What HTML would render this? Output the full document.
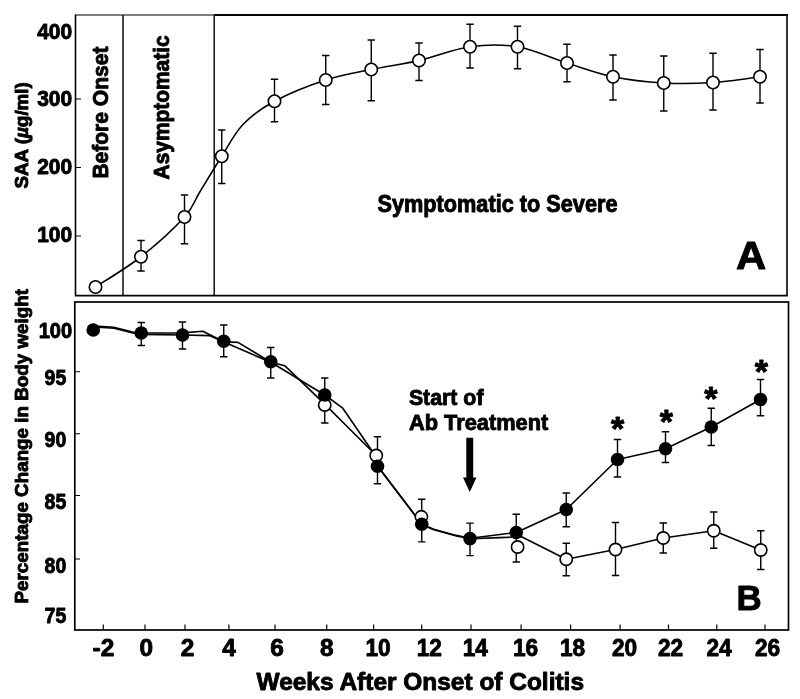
<!DOCTYPE html>
<html lang="en"><head><meta charset="utf-8"><title>SAA and body weight after onset of colitis</title>
<style>
html,body{margin:0;padding:0;background:#fff;}
body{width:800px;height:699px;overflow:hidden;}
svg{display:block;filter:grayscale(1);will-change:transform;}
text{font-family:"Liberation Sans",sans-serif;font-weight:bold;fill:#000;stroke:#000;stroke-width:0.9;stroke-linejoin:round;}
.ln{fill:none;stroke:#000;stroke-width:1.6;stroke-linejoin:round;}
.eb{fill:none;stroke:#000;stroke-width:1.4;}
.fr{fill:none;stroke:#000;}
.om{fill:#fff;stroke:#000;stroke-width:1.6;}
.fm{fill:#000;stroke:none;}
</style></head><body>
<svg width="800" height="699" viewBox="0 0 800 699">
<rect width="800" height="699" fill="#fff"/>
<g id="panelA">
<path class="fr" stroke-width="1.6" d="M75.5,14.5V295"/>
<path class="fr" stroke-width="1.2" d="M75.5,15H214"/>
<path class="fr" stroke-width="1.8" d="M214,15H787.8"/>
<path class="fr" stroke-width="1.6" d="M787,14.5V296"/>
<path class="fr" stroke-width="1.6" d="M74.8,295.6H787.8"/>
<path class="fr" stroke-width="1.4" d="M123,15V295M214.2,15V295"/>
<path class="fr" stroke-width="1.2" d="M76,99H81M76,167.5H81M76,236H81"/>
<text x="72.2" y="39.2" font-size="22" text-anchor="end" textLength="35" lengthAdjust="spacingAndGlyphs">400</text>
<text x="72.2" y="106.3" font-size="22" text-anchor="end" textLength="35" lengthAdjust="spacingAndGlyphs">300</text>
<text x="72.2" y="173.6" font-size="22" text-anchor="end" textLength="35" lengthAdjust="spacingAndGlyphs">200</text>
<text x="72.2" y="241.7" font-size="22" text-anchor="end" textLength="35" lengthAdjust="spacingAndGlyphs">100</text>
<text transform="translate(28.4,188.6) rotate(-90)" font-size="18.6" textLength="106.5" lengthAdjust="spacingAndGlyphs">SAA (<tspan font-style="italic">µ</tspan>g/ml)</text>
<text transform="translate(108.4,178.6) rotate(-90)" font-size="22" textLength="132" lengthAdjust="spacingAndGlyphs">Before Onset</text>
<text transform="translate(169.2,179.4) rotate(-90)" font-size="22" textLength="144" lengthAdjust="spacingAndGlyphs">Asymptomatic</text>
<text x="377.5" y="211.8" font-size="23" textLength="240" lengthAdjust="spacingAndGlyphs">Symptomatic to Severe</text>
<text x="735.9" y="268.5" font-size="39.4" textLength="30.2" lengthAdjust="spacingAndGlyphs">A</text>
<path class="ln" d="M95.5,287 C103.08,281.96 126.17,268.42 141,256.75 C155.83,245.08 174.75,227.71 184.5,217 C194.25,206.29 193.29,202.62 199.5,192.5 C205.71,182.38 214.5,167.58 221.75,156.25 C229,144.92 234.21,133.67 243,124.5 C251.79,115.33 260.71,108.67 274.5,101.25 C288.29,93.83 309.62,85.29 325.75,80 C341.88,74.71 355.71,72.75 371.25,69.5 C386.79,66.25 402.54,64.29 419,60.5 C435.46,56.71 453.58,49.04 470,46.75 C486.42,44.46 501.33,44.04 517.5,46.75 C533.67,49.46 551.08,58 567,63 C582.92,68 596.88,73.42 613,76.75 C629.12,80.08 647.08,82.04 663.75,83 C680.42,83.96 696.96,83.54 713,82.5 C729.04,81.46 752.17,77.71 760,76.75"/>
<path class="eb" d="M141,240.5V271M137.3,240.5H144.7M137.3,271H144.7M184.5,195V243.75M180.8,195H188.2M180.8,243.75H188.2M221.75,130V183.5M218.05,130H225.45M218.05,183.5H225.45M274.5,79.25V121.75M270.8,79.25H278.2M270.8,121.75H278.2M325.75,55.5V104.5M322.05,55.5H329.45M322.05,104.5H329.45M371.25,40V100.75M367.55,40H374.95M367.55,100.75H374.95M419,43V80.5M415.3,43H422.7M415.3,80.5H422.7M470,24.25V68M466.3,24.25H473.7M466.3,68H473.7M517.5,26.25V68.75M513.8,26.25H521.2M513.8,68.75H521.2M567,44.25V81.75M563.3,44.25H570.7M563.3,81.75H570.7M613,55V100M609.3,55H616.7M609.3,100H616.7M663.75,56V111M660.05,56H667.45M660.05,111H667.45M713,53.25V110M709.3,53.25H716.7M709.3,110H716.7M760,49.5V103M756.3,49.5H763.7M756.3,103H763.7"/>
<circle class="om" cx="95.5" cy="287" r="6.2"/>
<circle class="om" cx="141" cy="256.75" r="6.2"/>
<circle class="om" cx="184.5" cy="217" r="6.2"/>
<circle class="om" cx="221.75" cy="156.25" r="6.2"/>
<circle class="om" cx="274.5" cy="101.25" r="6.2"/>
<circle class="om" cx="325.75" cy="80" r="6.2"/>
<circle class="om" cx="371.25" cy="69.5" r="6.2"/>
<circle class="om" cx="419" cy="60.5" r="6.2"/>
<circle class="om" cx="470" cy="46.75" r="6.2"/>
<circle class="om" cx="517.5" cy="46.75" r="6.2"/>
<circle class="om" cx="567" cy="63" r="6.2"/>
<circle class="om" cx="613" cy="76.75" r="6.2"/>
<circle class="om" cx="663.75" cy="83" r="6.2"/>
<circle class="om" cx="713" cy="82.5" r="6.2"/>
<circle class="om" cx="760" cy="76.75" r="6.2"/>
</g>
<g id="panelB">
<rect class="fr" stroke-width="1.7" x="74.8" y="302" width="713.7" height="328"/>
<path class="fr" stroke-width="1.2" d="M75,371.75H80M75,433.75H80M75,495.5H80M75,559H80"/>
<path class="fr" stroke-width="1.2" d="M103.3,630V624.4M145,630V624.4M185,630V624.4M228.9,630V624.4M275,630V624.4M326.75,630V624.4M373.6,630V624.4M421.7,630V624.4M471,630V624.4M521.1,630V624.4M570.6,630V624.4M620.1,630V624.4M668.5,630V624.4M716.75,630V624.4M765,630V624.4"/>
<text x="72.2" y="338.2" font-size="21.5" text-anchor="end" textLength="33.5" lengthAdjust="spacingAndGlyphs">100</text>
<text x="66.2" y="385.2" font-size="21.5" text-anchor="end" textLength="21.6" lengthAdjust="spacingAndGlyphs">95</text>
<text x="66.2" y="447.2" font-size="21.5" text-anchor="end" textLength="21.6" lengthAdjust="spacingAndGlyphs">90</text>
<text x="66.2" y="508.8" font-size="21.5" text-anchor="end" textLength="21.6" lengthAdjust="spacingAndGlyphs">85</text>
<text x="66.2" y="572.6" font-size="21.5" text-anchor="end" textLength="21.6" lengthAdjust="spacingAndGlyphs">80</text>
<text x="66.2" y="623.4" font-size="21.5" text-anchor="end" textLength="21.6" lengthAdjust="spacingAndGlyphs">75</text>
<text x="103.4" y="656.3" font-size="24.4" text-anchor="middle">-2</text>
<text x="146.2" y="656.3" font-size="24.4" text-anchor="middle">0</text>
<text x="187.5" y="656.3" font-size="24.4" text-anchor="middle">2</text>
<text x="229" y="656.3" font-size="24.4" text-anchor="middle">4</text>
<text x="277" y="656.3" font-size="24.4" text-anchor="middle">6</text>
<text x="326.7" y="656.3" font-size="24.4" text-anchor="middle">8</text>
<text x="378" y="656.3" font-size="24.4" text-anchor="middle" textLength="25.2" lengthAdjust="spacingAndGlyphs">10</text>
<text x="429.3" y="656.3" font-size="24.4" text-anchor="middle" textLength="25.2" lengthAdjust="spacingAndGlyphs">12</text>
<text x="475.3" y="656.3" font-size="24.4" text-anchor="middle" textLength="25.2" lengthAdjust="spacingAndGlyphs">14</text>
<text x="525.6" y="656.3" font-size="24.4" text-anchor="middle" textLength="25.2" lengthAdjust="spacingAndGlyphs">16</text>
<text x="572.5" y="656.3" font-size="24.4" text-anchor="middle" textLength="25.2" lengthAdjust="spacingAndGlyphs">18</text>
<text x="624.5" y="656.3" font-size="24.4" text-anchor="middle" textLength="25.2" lengthAdjust="spacingAndGlyphs">20</text>
<text x="670.5" y="656.3" font-size="24.4" text-anchor="middle" textLength="25.2" lengthAdjust="spacingAndGlyphs">22</text>
<text x="719" y="656.3" font-size="24.4" text-anchor="middle" textLength="25.2" lengthAdjust="spacingAndGlyphs">24</text>
<text x="767.5" y="656.3" font-size="24.4" text-anchor="middle" textLength="25.2" lengthAdjust="spacingAndGlyphs">26</text>
<text x="256.5" y="690" font-size="24" textLength="327.5" lengthAdjust="spacingAndGlyphs">Weeks After Onset of Colitis</text>
<text transform="translate(28.3,603.5) rotate(-90)" font-size="19" textLength="314.5" lengthAdjust="spacingAndGlyphs">Percentage Change in Body weight</text>
<text x="408.9" y="404.7" font-size="22.8" textLength="74.6" lengthAdjust="spacingAndGlyphs">Start of</text>
<text x="408.9" y="430" font-size="22.8" textLength="139.4" lengthAdjust="spacingAndGlyphs">Ab Treatment</text>
<path fill="#000" d="M466.3,437.8H473.2V477.5H476.5L469.75,492L463,477.5H466.3Z"/>
<text x="736.6" y="610" font-size="35" textLength="25.2" lengthAdjust="spacingAndGlyphs">B</text>
<path class="ln" d="M93.5,329.9 L99,327.2 L114,328.3 L133,333 L141.25,334.4 L182.5,335 L209.4,335.6 L224,341.9 L270.5,362.3 L285,365.8 L325.2,404.6 L376,455.3 L378.3,466.7 L422.4,524.9 L434,529.8 L456.5,536 L470,538.8 L500,537.6 L521.5,536.8 L566.25,559.25 L615.5,549.5 L663.25,538 L713.75,530.75 L760.75,550"/>
<path class="ln" d="M93.5,329.7 L98.75,326.3 L113.75,327.3 L132.5,332 L141.25,333 L182.5,332.9 L202.8,331.2 L224,341.7 L238,342.4 L270.5,362 L324.75,395 L342.8,408.2 L373.5,453 L377.5,466.25 L421.75,524.25 L433.75,529.2 L456.25,535.4 L470,538.3 L516.25,532.5 L566.25,509.5 L617.5,459.5 L665.5,448.75 L711.25,427 L760.5,399.5"/>
<path class="eb" d="M141.25,322.5V345.5M137.55,322.5H144.95M137.55,345.5H144.95M182.5,322V349M178.8,322H186.2M178.8,349H186.2M223.75,325V356.75M220.05,325H227.45M220.05,356.75H227.45M270.75,347.5V378M267.05,347.5H274.45M267.05,378H274.45M324.75,378V423M321.05,378H328.45M321.05,423H328.45M377.5,436.75V483.75M373.8,436.75H381.2M373.8,483.75H381.2M421.75,499.3V541.9M418.05,499.3H425.45M418.05,541.9H425.45M470,523.1V555.6M466.3,523.1H473.7M466.3,555.6H473.7M516.25,514.25V562M512.55,514.25H519.95M512.55,562H519.95M566.25,493V526.75M562.55,493H569.95M562.55,526.75H569.95M617.5,439.5V477M613.8,439.5H621.2M613.8,477H621.2M665.5,431.75V462.5M661.8,431.75H669.2M661.8,462.5H669.2M711.25,408.25V445.5M707.55,408.25H714.95M707.55,445.5H714.95M760.5,379.5V415.75M756.8,379.5H764.2M756.8,415.75H764.2M566.25,543.25V575.75M562.55,543.25H569.95M562.55,575.75H569.95M615.5,522.5V575.5M611.8,522.5H619.2M611.8,575.5H619.2M663.25,523V553M659.55,523H666.95M659.55,553H666.95M713.75,512V548.25M710.05,512H717.45M710.05,548.25H717.45M760.75,530.75V569.5M757.05,530.75H764.45M757.05,569.5H764.45"/>
<circle class="om" cx="324.75" cy="405" r="6.15"/>
<circle class="om" cx="376.25" cy="455.5" r="6.15"/>
<circle class="om" cx="421.4" cy="516.8" r="6.15"/>
<circle class="om" cx="517.6" cy="547" r="6.15"/>
<circle class="om" cx="566.25" cy="559.25" r="6.15"/>
<circle class="om" cx="615.5" cy="549.5" r="6.15"/>
<circle class="om" cx="663.25" cy="538" r="6.15"/>
<circle class="om" cx="713.75" cy="530.75" r="6.15"/>
<circle class="om" cx="760.75" cy="550" r="6.15"/>
<circle class="fm" cx="93.25" cy="330" r="6.8"/>
<circle class="fm" cx="141.25" cy="333" r="6.8"/>
<circle class="fm" cx="182.5" cy="335" r="6.8"/>
<circle class="fm" cx="223.75" cy="341.25" r="6.8"/>
<circle class="fm" cx="270.75" cy="361.75" r="6.8"/>
<circle class="fm" cx="324.75" cy="395" r="6.8"/>
<circle class="fm" cx="377.5" cy="466.25" r="6.8"/>
<circle class="fm" cx="421.75" cy="524.25" r="6.8"/>
<circle class="fm" cx="470" cy="538.6" r="6.8"/>
<circle class="fm" cx="516.25" cy="532.5" r="6.8"/>
<circle class="fm" cx="566.25" cy="509.5" r="6.8"/>
<circle class="fm" cx="617.5" cy="459.5" r="6.8"/>
<circle class="fm" cx="665.5" cy="448.75" r="6.8"/>
<circle class="fm" cx="711.25" cy="427" r="6.8"/>
<circle class="fm" cx="760.5" cy="399.5" r="6.8"/>
<text x="617.5" y="440.15" font-size="34" text-anchor="middle">*</text>
<text x="666.25" y="433.4" font-size="34" text-anchor="middle">*</text>
<text x="710.75" y="410.15" font-size="34" text-anchor="middle">*</text>
<text x="761.25" y="383.15" font-size="34" text-anchor="middle">*</text>
</g>
</svg></body></html>
